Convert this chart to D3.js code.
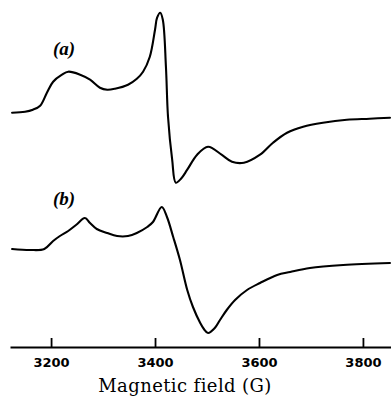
<!DOCTYPE html>
<html>
<head>
<meta charset="utf-8">
<script src="https://cdn.jsdelivr.net/npm/d3@7"></script>
<style>
  html, body { margin: 0; padding: 0; background: #fff; }
  svg { display: block; }
</style>
</head>
<body>
<svg id="chart" width="391" height="397"></svg>
<script>
// EPR first-derivative spectra, field in gauss, signal in arbitrary units
// (each trace measured relative to its own low-field baseline).
const fieldA = [3125, 3150, 3165, 3179, 3192, 3204, 3221, 3233, 3256, 3275, 3294, 3308, 3323, 3348,
  3365, 3377, 3390, 3400, 3404, 3410, 3415, 3421, 3425, 3433, 3440, 3450, 3462, 3481, 3502,
  3528, 3548, 3571, 3602, 3627, 3654, 3685, 3723, 3769, 3813, 3852];
const signalA = [0.00, 0.01, 0.03, 0.07, 0.20, 0.31, 0.38, 0.41, 0.38, 0.33, 0.25, 0.23, 0.24, 0.28,
  0.34, 0.41, 0.56, 0.83, 0.95, 1.00, 0.93, 0.46, -0.04, -0.47, -0.70, -0.66, -0.57, -0.42, -0.34,
  -0.42, -0.49, -0.50, -0.42, -0.30, -0.20, -0.14, -0.10, -0.07, -0.06, -0.05];

const fieldB = [3125, 3160, 3187, 3204, 3217, 3233, 3248, 3265, 3275, 3288, 3308, 3327, 3348, 3365,
  3385, 3396, 3413, 3423, 3435, 3448, 3462, 3473, 3487, 3494, 3502, 3515, 3525, 3538, 3554, 3577,
  3602, 3635, 3660, 3698, 3762, 3852];
const signalB = [0.00, -0.01, 0.00, 0.08, 0.13, 0.18, 0.24, 0.31, 0.26, 0.20, 0.16, 0.13, 0.13, 0.16,
  0.22, 0.27, 0.42, 0.32, 0.12, -0.11, -0.41, -0.58, -0.74, -0.80, -0.84, -0.79, -0.71, -0.61, -0.51, -0.41,
  -0.34, -0.26, -0.23, -0.19, -0.16, -0.14];

// vertical offsets that stack the two traces
const offsetA = 2.343;
const offsetB = 0.98;

const traceLabels = ["(a)", "(b)"];
const tickValues = [3200, 3400, 3600, 3800];
const axisTitle = "Magnetic field (G)";

const svg = d3.select("#chart");
const W = 391;
const axisY = 347;

const x = d3.scaleLinear().domain([3121, 3854]).range([10, W]);
const y = d3.scaleLinear().domain([0, 3.47]).range([axisY, 0]);

const traces = [
  { field: fieldA, signal: signalA, offset: offsetA },
  { field: fieldB, signal: signalB, offset: offsetB }
];

const line = d3.line()
  .x(d => x(d[0]))
  .y(d => y(d[1]))
  .curve(d3.curveCatmullRom.alpha(0.5));

svg.selectAll("path.trace")
  .data(traces)
  .join("path")
  .attr("class", "trace")
  .attr("d", t => line(t.field.map((f, i) => [f, t.signal[i] + t.offset])))
  .attr("fill", "none")
  .attr("stroke", "#000")
  .attr("stroke-width", 2.1)
  .attr("stroke-linejoin", "round")
  .attr("stroke-linecap", "round");

// trace labels
const labelPos = [
  { f: 3225, v: offsetA + 0.64 },
  { f: 3225, v: offsetB + 0.505 }
];
svg.selectAll("text.trace-label")
  .data(traceLabels)
  .join("text")
  .attr("class", "trace-label")
  .attr("x", (d, i) => x(labelPos[i].f))
  .attr("y", (d, i) => y(labelPos[i].v))
  .attr("text-anchor", "middle")
  .attr("dominant-baseline", "central")
  .attr("font-family", "'Liberation Serif', serif")
  .attr("font-style", "italic")
  .attr("font-weight", "bold")
  .attr("font-size", 19)
  .text(d => d);

// field axis with inward ticks
const axis = d3.axisBottom(x)
  .tickValues(tickValues)
  .tickFormat(d3.format("d"))
  .tickSizeInner(-9)
  .tickSizeOuter(0)
  .tickPadding(10.5);

const gAxis = svg.append("g")
  .attr("transform", `translate(0,${axisY})`)
  .call(axis);

gAxis.select(".domain").attr("stroke", "#000").attr("stroke-width", 1.8);
gAxis.selectAll(".tick line").attr("stroke", "#000").attr("stroke-width", 1.8);
gAxis.selectAll(".tick text")
  .attr("fill", "#000")
  .attr("font-family", "'DejaVu Sans', sans-serif")
  .attr("font-weight", "bold")
  .attr("font-size", 13);

svg.append("text")
  .attr("x", 185)
  .attr("y", 391.5)
  .attr("text-anchor", "middle")
  .attr("font-family", "'DejaVu Serif', serif")
  .attr("font-size", 18)
  .attr("letter-spacing", 0.4)
  .attr("fill", "#000")
  .text(axisTitle);
</script>
</body>
</html>
